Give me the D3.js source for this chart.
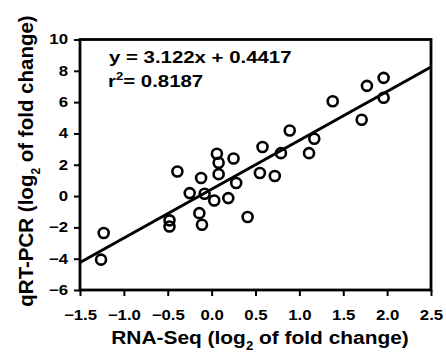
<!DOCTYPE html>
<html>
<head>
<meta charset="utf-8">
<script src="https://cdn.jsdelivr.net/npm/d3@7"></script>
<style>
body { margin: 0; background: #fff; }
text { font-family: "Liberation Sans", Arial, sans-serif; font-weight: bold; fill: #000; }
</style>
</head>
<body>
<svg width="446" height="353"></svg>
<script>
// log2 fold change, RNA-Seq (x) vs qRT-PCR (y)
const rnaSeq = [-1.23, -1.26, -0.48, -0.48, -0.39, -0.25, -0.12, -0.14, -0.11, -0.08,
    0.03, 0.06, 0.08, 0.08, 0.19, 0.25, 0.28, 0.41, 0.55, 0.58,
    0.72, 0.79, 0.89, 1.11, 1.17, 1.38, 1.71, 1.77, 1.96, 1.96];
const qrtPcr = [-2.36, -4.06, -1.55, -1.94, 1.57, 0.19, 1.15, -1.09, -1.83, 0.15,
    -0.28, 2.70, 2.13, 1.40, -0.13, 2.40, 0.83, -1.34, 1.47, 3.13,
    1.28, 2.74, 4.19, 2.74, 3.66, 6.06, 4.87, 7.04, 7.55, 6.28];
const xTicks = [-1.5, -1.0, -0.5, 0.0, 0.5, 1.0, 1.5, 2.0, 2.5];
const yTicks = [-6, -4, -2, 0, 2, 4, 6, 8, 10];
const slope = 3.122, intercept = 0.4417, r2 = 0.8187;

const data = rnaSeq.map((d, i) => ({ x: d, y: qrtPcr[i] }));

const svg = d3.select('svg');
const x = d3.scaleLinear().domain([-1.5, 2.5]).range([80, 431]);
const y = d3.scaleLinear().domain([-6, 10]).range([290, 39.5]);
const stretch = 'scale(1.2,1)';

// y axis
const yAxis = svg.append('g')
    .attr('transform', 'translate(' + x(-1.5) + ',0)')
    .call(d3.axisLeft(y).tickValues(yTicks).tickSize(6).tickSizeOuter(0).tickFormat(d3.format('d')));
yAxis.select('.domain').remove();
yAxis.selectAll('line').attr('stroke', '#000').attr('stroke-width', 2);
yAxis.selectAll('text')
    .attr('x', null)
    .attr('transform', 'translate(-12,0) ' + stretch)
    .style('font-size', '14px');

// x axis
const xAxis = svg.append('g')
    .attr('transform', 'translate(0,' + y(-6) + ')')
    .call(d3.axisBottom(x).tickValues(xTicks).tickSize(6).tickSizeOuter(0).tickPadding(14).tickFormat(d3.format('.1f')));
xAxis.select('.domain').remove();
xAxis.selectAll('line').attr('stroke', '#000').attr('stroke-width', 2);
xAxis.selectAll('text')
    .attr('transform', stretch)
    .style('font-size', '14px');

// frame
svg.append('rect')
    .attr('x', x(-1.5))
    .attr('y', y(10))
    .attr('width', x(2.5) - x(-1.5))
    .attr('height', y(-6) - y(10))
    .attr('fill', 'none')
    .attr('stroke', '#000')
    .attr('stroke-width', 2.8);

// regression line
const line = d3.line().x(d => x(d)).y(d => y(slope * d + intercept));
svg.append('path')
    .attr('d', line([-1.5, 2.5]))
    .attr('fill', 'none')
    .attr('stroke', '#000')
    .attr('stroke-width', 3);

// points
svg.selectAll('.pt')
    .data(data)
    .enter()
    .append('circle')
    .attr('class', 'pt')
    .attr('cx', d => x(d.x))
    .attr('cy', d => y(d.y))
    .attr('r', 5)
    .attr('fill', 'none')
    .attr('stroke', '#000')
    .attr('stroke-width', 2.6);

// equation
const eq = svg.append('g').attr('transform', 'translate(109,63)');
eq.append('text')
    .attr('transform', stretch)
    .style('font-size', '17px')
    .text('y = ' + slope + 'x + ' + intercept);
const rt = svg.append('g').attr('transform', 'translate(108,87)')
    .append('text')
    .attr('transform', stretch)
    .style('font-size', '17px');
rt.append('tspan').text('r');
rt.append('tspan').attr('dy', -7).style('font-size', '11px').text('2');
rt.append('tspan').attr('dy', 7).text('= ' + r2);

// axis titles
const xt = svg.append('g')
    .attr('transform', 'translate(260,344)')
    .append('text')
    .attr('transform', 'scale(1.1,1)')
    .attr('text-anchor', 'middle')
    .style('font-size', '19px');
xt.append('tspan').text('RNA-Seq (log');
xt.append('tspan').attr('dy', 6).style('font-size', '12px').text('2');
xt.append('tspan').attr('dy', -6).text(' of fold change)');

const yt = svg.append('text')
    .attr('transform', 'translate(33,161) rotate(-90)')
    .attr('text-anchor', 'middle')
    .style('font-size', '20.5px');
yt.append('tspan').text('qRT-PCR (log');
yt.append('tspan').attr('dy', 7).style('font-size', '12px').text('2');
yt.append('tspan').attr('dy', -7).text(' of fold change)');
</script>
</body>
</html>
